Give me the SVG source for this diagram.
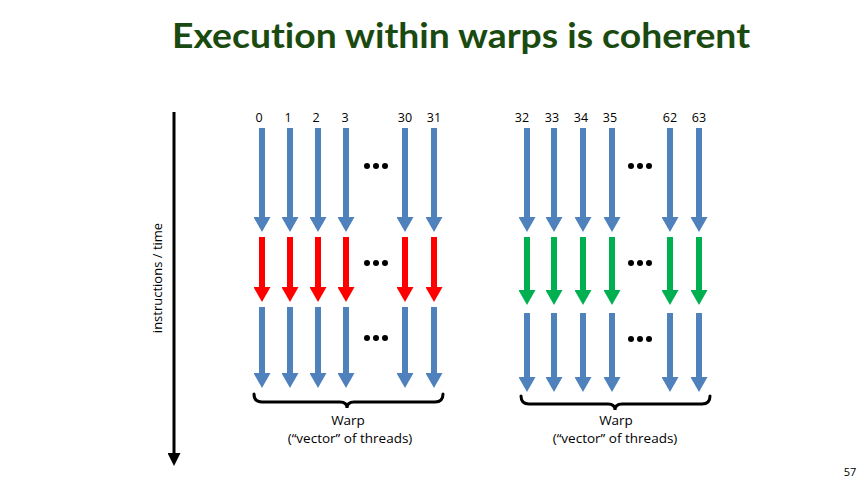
<svg xmlns="http://www.w3.org/2000/svg" width="864" height="486" viewBox="0 0 864 486">
<style>
.t{font-family:"Open Sans","Liberation Sans",sans-serif;fill:#000}
.num{font-size:12.5px;text-anchor:middle}
.lbl{font-size:13.5px;text-anchor:middle}
.title{font-family:Lato,"Open Sans","Liberation Sans",sans-serif;font-weight:bold;font-size:34px;fill:#1b4a10;text-anchor:middle;font-variant-ligatures:none}
.b{stroke:#4f81bd;stroke-width:6;marker-end:url(#hb)}
.r{stroke:#ff0000;stroke-width:6;marker-end:url(#hr)}
.g{stroke:#00b050;stroke-width:6;marker-end:url(#hg)}
.brace{fill:none;stroke:#000;stroke-width:3;stroke-linecap:round}
.dot{fill:#000}
</style>
<defs>
<marker id="hb" markerUnits="userSpaceOnUse" markerWidth="16" markerHeight="17" viewBox="0 0 15 17" refX="0" refY="8.5" orient="auto"><path d="M0,0 L15,8.5 L0,17 z" fill="#4f81bd"/></marker>
<marker id="hr" markerUnits="userSpaceOnUse" markerWidth="16" markerHeight="17" viewBox="0 0 15 17" refX="0" refY="8.5" orient="auto"><path d="M0,0 L15,8.5 L0,17 z" fill="#ff0000"/></marker>
<marker id="hg" markerUnits="userSpaceOnUse" markerWidth="16" markerHeight="17" viewBox="0 0 15 17" refX="0" refY="8.5" orient="auto"><path d="M0,0 L15,8.5 L0,17 z" fill="#00b050"/></marker>
<marker id="hk" markerUnits="userSpaceOnUse" markerWidth="13" markerHeight="13" viewBox="0 0 12 12" refX="0" refY="6" orient="auto"><path d="M0,0 L12,6 L0,12 z" fill="#000"/></marker>
</defs>
<rect width="864" height="486" fill="#fff"/>
<text id="title" class="title" x="461" y="48" textLength="578" lengthAdjust="spacingAndGlyphs">Execution within warps is coherent</text>
<g id="time-axis">
<line x1="174" y1="112" x2="174" y2="453" stroke="#000" stroke-width="3" marker-end="url(#hk)"/>
<text class="t" font-size="13" text-anchor="middle" transform="translate(162,278) rotate(-90)">instructions / time</text>
</g>
<g id="left-warp-labels" class="t num">
<text x="259" y="122">0</text><text x="288" y="122">1</text><text x="316" y="122">2</text><text x="345" y="122">3</text><text x="405" y="122">30</text><text x="434" y="122">31</text>
</g>
<g id="right-warp-labels" class="t num">
<text x="522" y="122">32</text><text x="552" y="122">33</text><text x="581" y="122">34</text><text x="610" y="122">35</text><text x="670" y="122">62</text><text x="699" y="122">63</text>
</g>
<g id="connectors">
<g id="left-row1">
<line class="b" x1="262" y1="128" x2="262" y2="217"/><line class="b" x1="290" y1="128" x2="290" y2="217"/><line class="b" x1="318" y1="128" x2="318" y2="217"/><line class="b" x1="346" y1="128" x2="346" y2="217"/><line class="b" x1="405" y1="128" x2="405" y2="217"/><line class="b" x1="434" y1="128" x2="434" y2="217"/>
</g>
<g id="left-row2">
<line class="r" x1="262" y1="237" x2="262" y2="287"/><line class="r" x1="290" y1="237" x2="290" y2="287"/><line class="r" x1="318" y1="237" x2="318" y2="287"/><line class="r" x1="346" y1="237" x2="346" y2="287"/><line class="r" x1="405" y1="237" x2="405" y2="287"/><line class="r" x1="434" y1="237" x2="434" y2="287"/>
</g>
<g id="left-row3">
<line class="b" x1="262" y1="307" x2="262" y2="373"/><line class="b" x1="290" y1="307" x2="290" y2="373"/><line class="b" x1="318" y1="307" x2="318" y2="373"/><line class="b" x1="346" y1="307" x2="346" y2="373"/><line class="b" x1="405" y1="307" x2="405" y2="373"/><line class="b" x1="434" y1="307" x2="434" y2="373"/>
</g>
<g id="right-row1">
<line class="b" x1="527" y1="128" x2="527" y2="217"/><line class="b" x1="554" y1="128" x2="554" y2="217"/><line class="b" x1="583" y1="128" x2="583" y2="217"/><line class="b" x1="612" y1="128" x2="612" y2="217"/><line class="b" x1="670" y1="128" x2="670" y2="217"/><line class="b" x1="699" y1="128" x2="699" y2="217"/>
</g>
<g id="right-row2">
<line class="g" x1="527" y1="237" x2="527" y2="290"/><line class="g" x1="554" y1="237" x2="554" y2="290"/><line class="g" x1="583" y1="237" x2="583" y2="290"/><line class="g" x1="612" y1="237" x2="612" y2="290"/><line class="g" x1="670" y1="237" x2="670" y2="290"/><line class="g" x1="699" y1="237" x2="699" y2="290"/>
</g>
<g id="right-row3">
<line class="b" x1="527" y1="313" x2="527" y2="377"/><line class="b" x1="554" y1="313" x2="554" y2="377"/><line class="b" x1="583" y1="313" x2="583" y2="377"/><line class="b" x1="612" y1="313" x2="612" y2="377"/><line class="b" x1="670" y1="313" x2="670" y2="377"/><line class="b" x1="699" y1="313" x2="699" y2="377"/>
</g>
</g>
<g id="ellipses" class="dot">
<circle cx="367" cy="166" r="3"/><circle cx="376" cy="166" r="3"/><circle cx="385" cy="166" r="3"/>
<circle cx="367" cy="263" r="3"/><circle cx="376" cy="263" r="3"/><circle cx="385" cy="263" r="3"/>
<circle cx="367" cy="338" r="3"/><circle cx="376" cy="338" r="3"/><circle cx="385" cy="338" r="3"/>
<circle cx="631" cy="166" r="3"/><circle cx="640" cy="166" r="3"/><circle cx="649" cy="166" r="3"/>
<circle cx="631" cy="263" r="3"/><circle cx="640" cy="263" r="3"/><circle cx="649" cy="263" r="3"/>
<circle cx="631" cy="339" r="3"/><circle cx="640" cy="339" r="3"/><circle cx="649" cy="339" r="3"/>
</g>
<g id="left-warp">
<path class="brace" d="M254,394 Q254,402 262,402 L340,402 Q347,402 347,408 Q347,402 354,402 L435,402 Q443,402 443,394"/>
<text class="t lbl" x="348" y="425">Warp</text>
<text class="t lbl" x="350" y="443">(“vector” of threads)</text>
</g>
<g id="right-warp">
<path class="brace" d="M521,396 Q521,404 529,404 L608,404 Q615,404 615,410 Q615,404 622,404 L702,404 Q710,404 710,396"/>
<text class="t lbl" x="616" y="425">Warp</text>
<text class="t lbl" x="615" y="443">(“vector” of threads)</text>
</g>
<text id="page" class="t" font-size="11" x="850" y="476" text-anchor="middle">57</text>
</svg>
